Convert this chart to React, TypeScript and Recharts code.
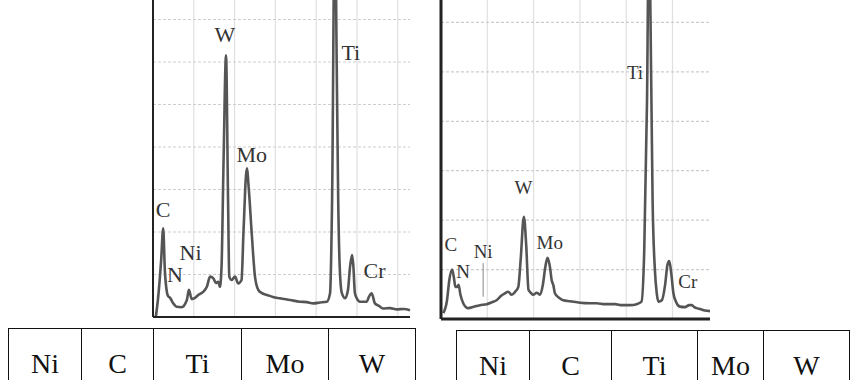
import { ComposedChart, Line, ReferenceLine, Scatter, XAxis, YAxis } from "recharts";

// left spectrum: energy (keV) and intensity (grid units)
const leftEnergy = [
   0.07, 0.12, 0.2, 0.25, 0.29, 0.34, 0.37, 0.42, 0.49, 0.58, 0.7, 0.83, 0.88, 0.95, 1.03, 1.11, 1.23, 1.32, 1.4,
   1.48, 1.54, 1.6, 1.64, 1.68, 1.73, 1.79, 1.84, 1.87, 1.93, 2.01, 2.09, 2.17, 2.22, 2.3, 2.35, 2.42, 2.5, 2.58,
   2.67, 2.79, 2.94, 3.11, 3.36, 3.6, 3.77, 3.93, 4.09, 4.26, 4.34, 4.39, 4.46, 4.5, 4.54, 4.58, 4.63, 4.71, 4.78,
   4.83, 4.88, 4.91, 4.95, 5.02, 5.07, 5.24, 5.29, 5.36, 5.44, 5.54, 5.64, 5.81, 5.98, 6.15, 6.3,
];
const leftCounts = [
   0.01, 0.4, 1.34, 2.09, 1.11, 0.59, 0.49, 0.45, 0.33, 0.24, 0.23, 0.4, 0.64, 0.42, 0.45, 0.52, 0.59, 0.71, 0.95,
   0.91, 0.8, 0.83, 0.71, 1.18, 3.69, 6.16, 2.75, 0.95, 0.87, 0.95, 0.79, 0.87, 2.05, 3.5, 2.99, 1.97, 0.95, 0.64,
   0.56, 0.52, 0.47, 0.44, 0.4, 0.36, 0.35, 0.32, 0.34, 0.36, 0.56, 2.75, 10, 6.28, 2.75, 1.11, 0.56, 0.44, 0.64,
   1.18, 1.46, 1.22, 0.56, 0.4, 0.36, 0.36, 0.47, 0.56, 0.32, 0.26, 0.2, 0.21, 0.18, 0.19, 0.16,
];

// right spectrum
const rightEnergy = [
   0.05, 0.13, 0.18, 0.24, 0.28, 0.31, 0.35, 0.38, 0.42, 0.48, 0.54, 0.59, 0.71, 0.84, 0.99, 1.1, 1.2, 1.3, 1.38,
   1.45, 1.53, 1.6, 1.67, 1.72, 1.79, 1.84, 1.89, 1.94, 1.99, 2.07, 2.14, 2.2, 2.25, 2.3, 2.35, 2.39, 2.43, 2.46,
   2.55, 2.64, 2.79, 3.0, 3.22, 3.36, 3.54, 3.76, 3.91, 4.08, 4.23, 4.33, 4.39, 4.45, 4.49, 4.54, 4.57, 4.62, 4.66,
   4.7, 4.77, 4.84, 4.89, 4.93, 4.97, 5.02, 5.08, 5.16, 5.27, 5.36, 5.42, 5.47, 5.52, 5.6, 5.7, 5.81,
];
const rightCounts = [
   0.12, 0.38, 0.79, 1.0, 0.83, 0.65, 0.65, 0.69, 0.49, 0.32, 0.24, 0.22, 0.25, 0.28, 0.3, 0.34, 0.38, 0.47, 0.52,
   0.55, 0.49, 0.55, 0.65, 1.19, 2.07, 1.5, 0.59, 0.53, 0.49, 0.53, 0.49, 0.69, 1.03, 1.24, 1.07, 0.79, 0.67, 0.52,
   0.43, 0.38, 0.36, 0.33, 0.32, 0.32, 0.3, 0.3, 0.28, 0.28, 0.3, 0.35, 1.4, 4.43, 8, 4.84, 2.41, 0.99, 0.52,
   0.35, 0.38, 0.69, 1.09, 1.17, 0.95, 0.52, 0.34, 0.25, 0.24, 0.28, 0.28, 0.24, 0.22, 0.2, 0.17, 0.16,
];

// peak labels
const peakNames = ["C", "N", "Ni", "W", "Mo", "Ti", "Cr"];
const leftLabelEnergy = [0.25, 0.54, 0.92, 1.76, 2.42, 4.85, 5.43];
const leftLabelCounts = [2.52, 0.99, 1.51, 6.64, 3.81, 6.21, 1.09];
const rightLabelEnergy = [0.21, 0.48, 0.91, 1.78, 2.35, 4.19, 5.33];
const rightLabelCounts = [1.5, 0.95, 1.36, 2.65, 1.54, 4.98, 0.75];

const tableElements = ["Ni", "C", "Ti", "Mo", "W"];

const toPoints = (e: number[], y: number[]) => e.map((v, i) => ({ e: v, y: y[i] }));
const toLabels = (e: number[], y: number[]) => peakNames.map((name, i) => ({ e: e[i], y: y[i], name }));

const SERIF = '"Liberation Serif", "Times New Roman", Times, "DejaVu Serif", serif';

function labelShape(size: number) {
   return (props: any) => (
      <text
         x={props.cx}
         y={props.cy}
         dy={size * 0.33}
         textAnchor="middle"
         style={{ fontFamily: SERIF, fontSize: size }}
         fill="#333"
      >
         {props.payload.name}
      </text>
   );
}

interface SpectrumProps {
   points: Array<{ e: number; y: number }>;
   labels: Array<{ e: number; y: number; name: string }>;
   xMax: number;
   xTicks: number[];
   yMax: number;
   width: number;
   height: number;
   margin: { top: number; right: number; bottom: number; left: number };
   fontSize: number;
   axisWidth: number;
   niMarker?: boolean;
}

function Spectrum({ points, labels, xMax, xTicks, yMax, width, height, margin, fontSize, axisWidth, niMarker }: SpectrumProps) {
   const yTicks = Array.from({ length: yMax }, (_, i) => i + 1);
   return (
      <ComposedChart width={width} height={height} margin={margin}>
         <XAxis type="number" dataKey="e" domain={[0, xMax]} hide />
         <YAxis type="number" domain={[0, yMax]} allowDataOverflow hide />
         {xTicks.map((t) => (
            <ReferenceLine key={"x" + t} x={t} stroke="#e0e0e0" strokeWidth={1.2} />
         ))}
         {yTicks.map((t) => (
            <ReferenceLine key={"y" + t} y={t} stroke="#cdcdcd" strokeWidth={1.2} strokeDasharray="3 2" />
         ))}
         {niMarker && (
            <ReferenceLine
               segment={[
                  { x: labels[2].e, y: 0.45 },
                  { x: labels[2].e, y: 1.13 },
               ]}
               stroke="#888"
               strokeWidth={1}
            />
         )}
         <Line
            data={points}
            dataKey="y"
            type="monotone"
            stroke="#555"
            strokeWidth={2.6}
            dot={false}
            isAnimationActive={false}
         />
         <ReferenceLine x={0} stroke="#222" strokeWidth={axisWidth} />
         <ReferenceLine y={0} stroke="#222" strokeWidth={axisWidth} />
         <Scatter data={labels} dataKey="y" shape={labelShape(fontSize)} isAnimationActive={false} />
      </ComposedChart>
   );
}

function ElementTable({ left, top, cols }: { left: number; top: number; cols: number[] }) {
   return (
      <div style={{ position: "absolute", left, top, display: "flex", borderTop: "1.5px solid #111", borderLeft: "1.5px solid #111" }}>
         {tableElements.map((el, i) => (
            <div
               key={el}
               style={{
                  width: cols[i],
                  height: 80,
                  boxSizing: "border-box",
                  borderRight: "1.5px solid #111",
                  fontFamily: SERIF,
                  fontSize: 28,
                  color: "#111",
                  textAlign: "center",
                  paddingTop: 19,
                  lineHeight: "32px",
               }}
            >
               {el}
            </div>
         ))}
      </div>
   );
}

export default function App() {
   return (
      <div style={{ position: "absolute", left: 0, top: 0, width: 858, height: 380, overflow: "hidden", background: "#fff" }}>
         <div style={{ position: "absolute", left: 140, top: -30 }}>
            <Spectrum
               points={toPoints(leftEnergy, leftCounts)}
               labels={toLabels(leftLabelEnergy, leftLabelCounts)}
               xMax={6.3}
               xTicks={[1, 2, 3, 4, 5, 6]}
               yMax={8}
               width={275}
               height={350}
               margin={{ top: 7, right: 5, bottom: 3, left: 13 }}
               fontSize={22}
               axisWidth={2}
            />
         </div>
         <div style={{ position: "absolute", left: 430, top: -35 }}>
            <Spectrum
               points={toPoints(rightEnergy, rightCounts)}
               labels={toLabels(rightLabelEnergy, rightLabelCounts)}
               xMax={5.81}
               xTicks={[1, 2, 3, 4, 5]}
               yMax={7}
               width={285}
               height={357}
               margin={{ top: 8, right: 5, bottom: 3, left: 11 }}
               fontSize={19}
               axisWidth={3}
               niMarker
            />
         </div>
         <ElementTable left={8} top={328} cols={[73, 72, 88, 87, 87]} />
         <ElementTable left={456} top={330} cols={[73, 82, 86, 66, 86]} />
      </div>
   );
}
